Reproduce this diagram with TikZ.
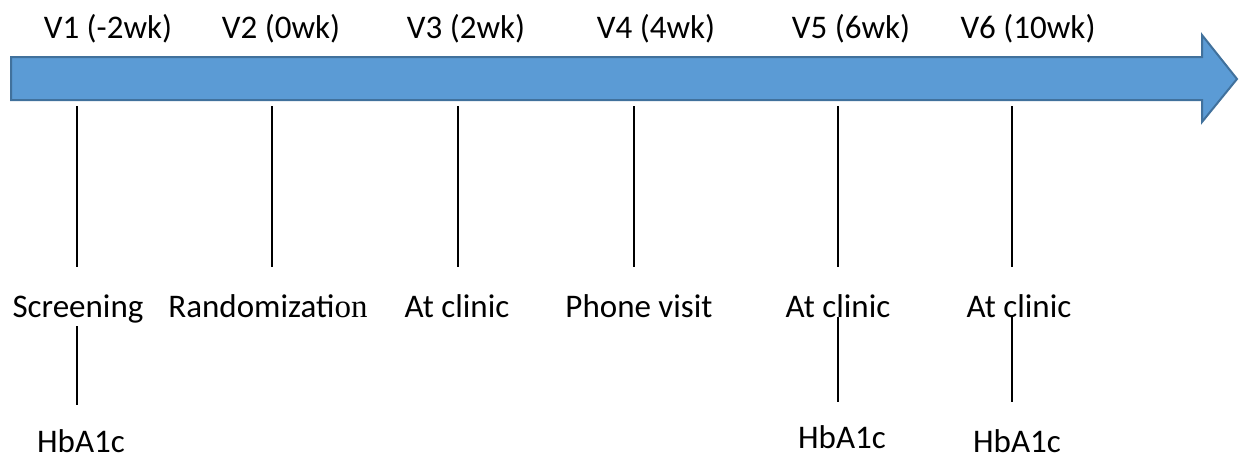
\documentclass[tikz,border=0pt]{standalone}
\usepackage{fontspec}
\setmainfont{Carlito}
\newfontfamily\serifpart{Liberation Serif}
\usepackage{xcolor}
\usepackage{tikz}

\definecolor{barblue}{HTML}{5B9BD5}
\definecolor{baredge}{HTML}{41719C}

\tikzset{
  lbl/.style={anchor=base, inner sep=0pt, font=\fontsize{33}{38}\selectfont},
  stem/.style={draw=black, line width=1.2pt}
}

\begin{document}
\begin{tikzpicture}[x=1pt, y=-1pt]
\useasboundingbox (0,0) rectangle (1239,458);

% timeline arrow
\path[fill=barblue, draw=baredge, line width=2pt, line join=miter]
  (11,57) -- (1202,57) -- (1202,35) -- (1237,79) -- (1202,122) -- (1202,100) -- (11,100) -- cycle;

% visits
\node[lbl] (v1) at (108,38) {V1 (-2wk)};
\node[lbl] (v2) at (281,38) {V2 (0wk)};
\node[lbl] (v3) at (466,38) {V3 (2wk)};
\node[lbl] (v4) at (656,38) {V4 (4wk)};
\node[lbl] (v5) at (851,38) {V5 (6wk)};
\node[lbl] (v6) at (1028,38) {V6 (10wk)};

% what happens at each visit
\node[lbl] (screen) at (78,317) {Screening};
\node[lbl] (random) at (268,317) {Randomizati{\serifpart on}};
\node[lbl] (clinicA) at (457,317) {At clinic};
\node[lbl] (phone) at (639,317) {Phone visit};
\node[lbl] (clinicB) at (838,317) {At clinic};
\node[lbl] (clinicC) at (1019,317) {At clinic};

\node[lbl] (hbaA) at (81,452) {HbA1c};
\node[lbl] (hbaB) at (842,448) {HbA1c};
\node[lbl] (hbaC) at (1017,452) {HbA1c};

% stems
\coordinate (s1) at (77,106);  \coordinate (e1) at (77,267);
\coordinate (s2) at (272,106); \coordinate (e2) at (272,267);
\coordinate (s3) at (458,106); \coordinate (e3) at (458,267);
\coordinate (s4) at (634,106); \coordinate (e4) at (634,267);
\coordinate (s5) at (838,106); \coordinate (e5) at (838,267);
\coordinate (s6) at (1012,106); \coordinate (e6) at (1012,267);
\draw[stem] (s1) -- (e1);
\draw[stem] (s2) -- (e2);
\draw[stem] (s3) -- (e3);
\draw[stem] (s4) -- (e4);
\draw[stem] (s5) -- (e5);
\draw[stem] (s6) -- (e6);

\draw[stem] (77,326) -- (77,405);
\draw[stem] (838,317) -- (838,402);
\draw[stem] (1012,317) -- (1012,402);
\end{tikzpicture}
\end{document}
